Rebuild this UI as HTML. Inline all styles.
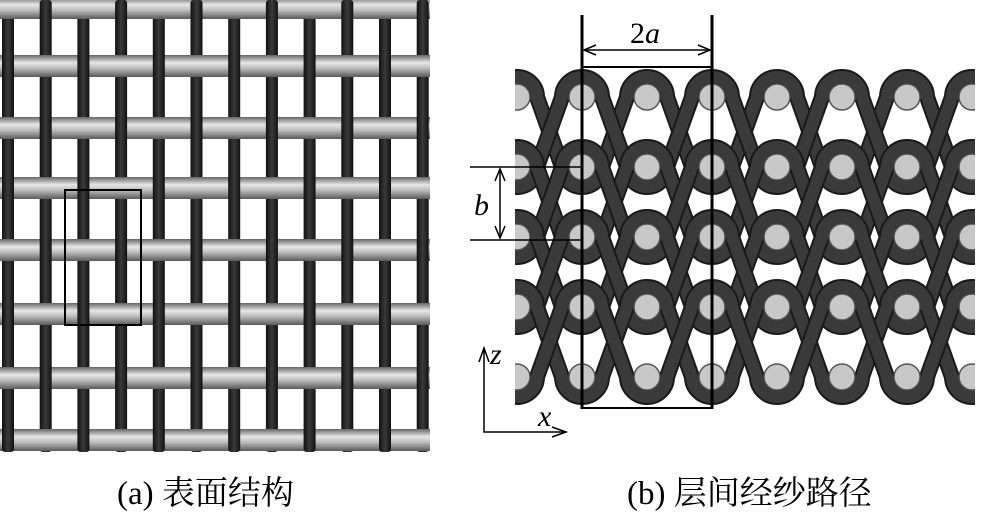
<!DOCTYPE html>
<html><head><meta charset="utf-8"><style>
html,body{margin:0;padding:0;background:#fff;width:1000px;height:516px;overflow:hidden}
.lab{position:absolute;font-family:"Liberation Serif","Noto Serif CJK SC",serif;font-size:33px;color:#000;white-space:nowrap}
</style></head><body>
<svg id="s" width="1000" height="516" style="position:absolute;left:0;top:0" xmlns="http://www.w3.org/2000/svg">
<defs>
<linearGradient id="gw" x1="0" y1="0" x2="0" y2="1">
<stop offset="0" stop-color="#666"/><stop offset="0.35" stop-color="#e6e6e6"/><stop offset="0.6" stop-color="#bdbdbd"/><stop offset="1" stop-color="#5a5a5a"/></linearGradient>
<linearGradient id="gd" x1="0" y1="0" x2="1" y2="0">
<stop offset="0" stop-color="#111"/><stop offset="0.5" stop-color="#3a3a3a"/><stop offset="1" stop-color="#111"/></linearGradient>
<clipPath id="cl"><rect x="0" y="0" width="430" height="452"/></clipPath>
<clipPath id="cr"><rect x="515" y="68" width="460" height="342"/></clipPath>
</defs>
<g id="left" clip-path="url(#cl)"></g>
<rect x="65" y="190" width="76" height="135" fill="none" stroke="#000" stroke-width="2"/>
<g id="right" clip-path="url(#cr)"></g>
<g stroke="#000" fill="none">
<line x1="582" y1="15" x2="582" y2="409" stroke-width="3"/>
<line x1="712" y1="15" x2="712" y2="409" stroke-width="3"/>
<line x1="582" y1="408" x2="712" y2="408" stroke-width="2"/>
<line x1="582" y1="67" x2="712" y2="67" stroke-width="2"/>
<line x1="584" y1="50" x2="710" y2="50" stroke-width="1.5"/>
<path d="M596 45 L584 50 L596 55" stroke-width="1.5"/>
<path d="M698 45 L710 50 L698 55" stroke-width="1.5"/>
<line x1="470" y1="167" x2="582" y2="167" stroke-width="1.5"/>
<line x1="470" y1="240" x2="582" y2="240" stroke-width="1.5"/>
<line x1="500" y1="169" x2="500" y2="238" stroke-width="1.5"/>
<path d="M495 181 L500 169 L505 181" stroke-width="1.5"/>
<path d="M495 226 L500 238 L505 226" stroke-width="1.5"/>
<path d="M484 348 L484 432 L566 432" stroke-width="1.5"/>
<path d="M479 362 L484 348 L489 362" stroke-width="1.5"/>
<path d="M552 427 L566 432 L552 437" stroke-width="1.5"/>
</g>
<g font-family="Liberation Serif, serif" font-size="30" fill="#000">
<text x="630" y="43">2<tspan font-style="italic">a</tspan></text>
<text x="474" y="215" font-style="italic">b</text>
<text x="490" y="364" font-style="italic">z</text>
<text x="538" y="426" font-style="italic">x</text>
</g>
</svg>
<div class="lab" style="left:117px;top:467px">(a) 表面结构</div>
<div class="lab" style="left:627px;top:467px">(b) 层间经纱路径</div>
<script>
var NS="http://www.w3.org/2000/svg";
function el(p,t,a){var e=document.createElementNS(NS,t);for(var k in a)e.setAttribute(k,a[k]);p.appendChild(e);return e;}
var L=document.getElementById('left');
var xs=[],ys=[8,66,128,188,250,314,378,440];
for(var i=0;i<12;i++)xs.push(8+i*37.7);
ys.forEach(function(y){el(L,'rect',{x:0,y:y-11,width:430,height:22,fill:'url(#gw)'});});
xs.forEach(function(x){el(L,'rect',{x:x-6,y:0,width:12,height:452,fill:'url(#gd)',rx:3});});
ys.forEach(function(y,j){xs.forEach(function(x,i){if((i+j)%2==0){el(L,'rect',{x:x-9,y:y-11,width:18,height:22,fill:'url(#gw)'});}});});
var R=document.getElementById('right');
var cx=[],cy=[97,167,237,307,377],a=65,Rr=20;
for(var i=-1;i<9;i++)cx.push(517+i*a);
for(var r=0;r<4;r++){
 for(var ph=0;ph<2;ph++){
  var d='';
  for(var i=-2+ph;i<10;i+=2){
   var x=517+i*a,y=cy[r],x2=x+a,y2=cy[r+1];
   d+=(d?' L':'M')+(x-Rr)+' '+y+' A'+Rr+' '+Rr+' 0 0 1 '+(x+Rr)+' '+y+' L'+(x2-Rr)+' '+y2+' A'+Rr+' '+Rr+' 0 0 0 '+(x2+Rr)+' '+y2;
  }
  el(R,'path',{d:d,fill:'none',stroke:'#1a1a1a',"stroke-width":16,"stroke-linejoin":"round"});
  el(R,'path',{d:d,fill:'none',stroke:'#3a3a3a',"stroke-width":12,"stroke-linejoin":"round"});
 }
}
cy.forEach(function(y){cx.forEach(function(x){el(R,'circle',{cx:x,cy:y,r:13,fill:'#c8c8c8',stroke:'#555',"stroke-width":1.5});});});
</script>
</body></html>
